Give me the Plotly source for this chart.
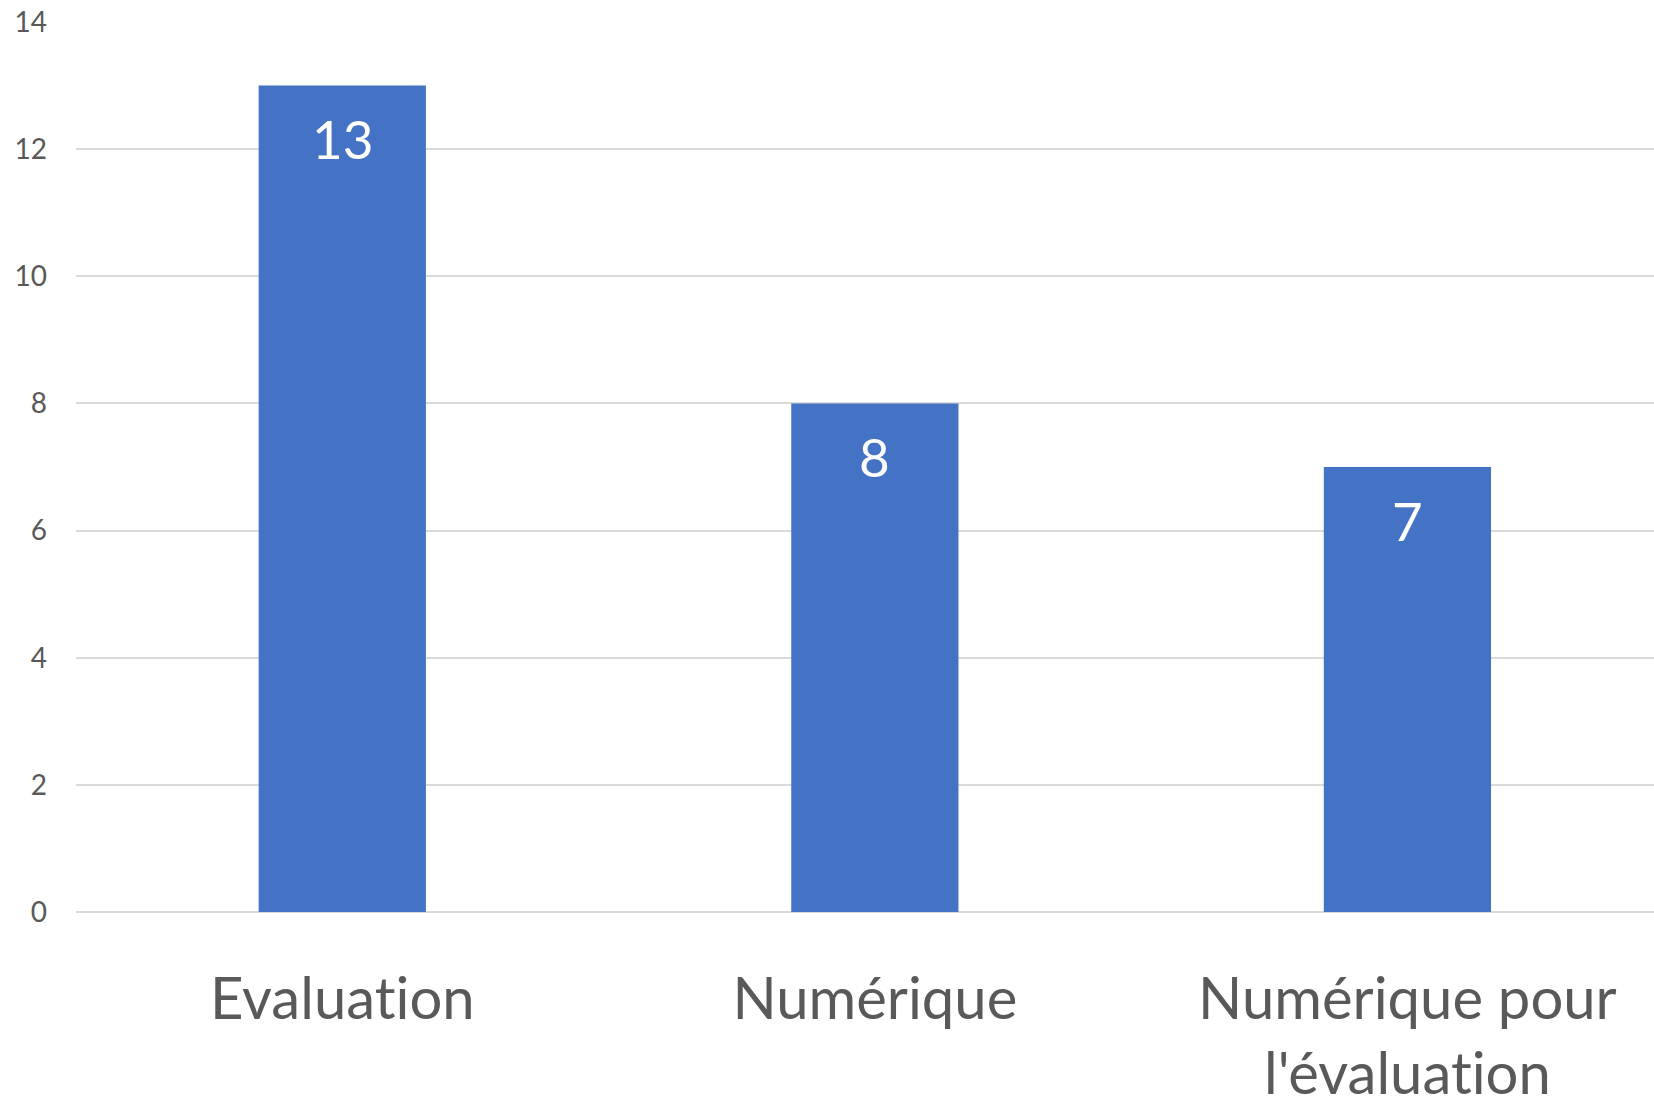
import plotly.graph_objects as go

categories = ["Evaluation", "Numérique", "Numérique pour<br>l'évaluation"]
values = [13, 8, 7]
y_ticks = [0, 2, 4, 6, 8, 10, 12, 14]

BAR = "#4472C4"
TXT = "#595959"
GRID = "#D9D9D9"
FONT = "Lato"

# break the "ti" ligature of Lato so the labels read like the original font
tick_text = [c.replace("ti", "t\u200ci") for c in categories]

fig = go.Figure()
fig.add_trace(go.Bar(x=categories, y=values, marker=dict(color=BAR, line=dict(width=0)),
                     hoverinfo="skip"))

for c, v in zip(categories, values):
    fig.add_annotation(x=c, y=v, text=str(v), showarrow=False, yanchor="middle",
                       yshift=-53, font=dict(family=FONT, size=53, color="white"))

fig.update_layout(
    width=1654, height=1097,
    margin=dict(l=76, r=0, t=22, b=184.5),
    paper_bgcolor="white", plot_bgcolor="white",
    bargap=0.686,
    showlegend=False,
    font=dict(family=FONT, color=TXT),
)
fig.update_xaxes(range=[-0.5, 2.463], showgrid=False, showline=False, zeroline=False,
                 tickvals=categories, ticktext=tick_text, automargin=False,
                 tickfont=dict(family=FONT, size=58, color=TXT), ticklabelstandoff=48,
                 ticks="")
fig.update_yaxes(range=[0, 14], tickvals=y_ticks, showgrid=True, gridcolor=GRID, gridwidth=2,
                 zeroline=True, zerolinecolor=GRID, zerolinewidth=2, showline=False,
                 automargin=False,
                 tickfont=dict(family=FONT, size=28, color=TXT), ticklabelstandoff=28, ticks="")

fig.write_html("out.html")
